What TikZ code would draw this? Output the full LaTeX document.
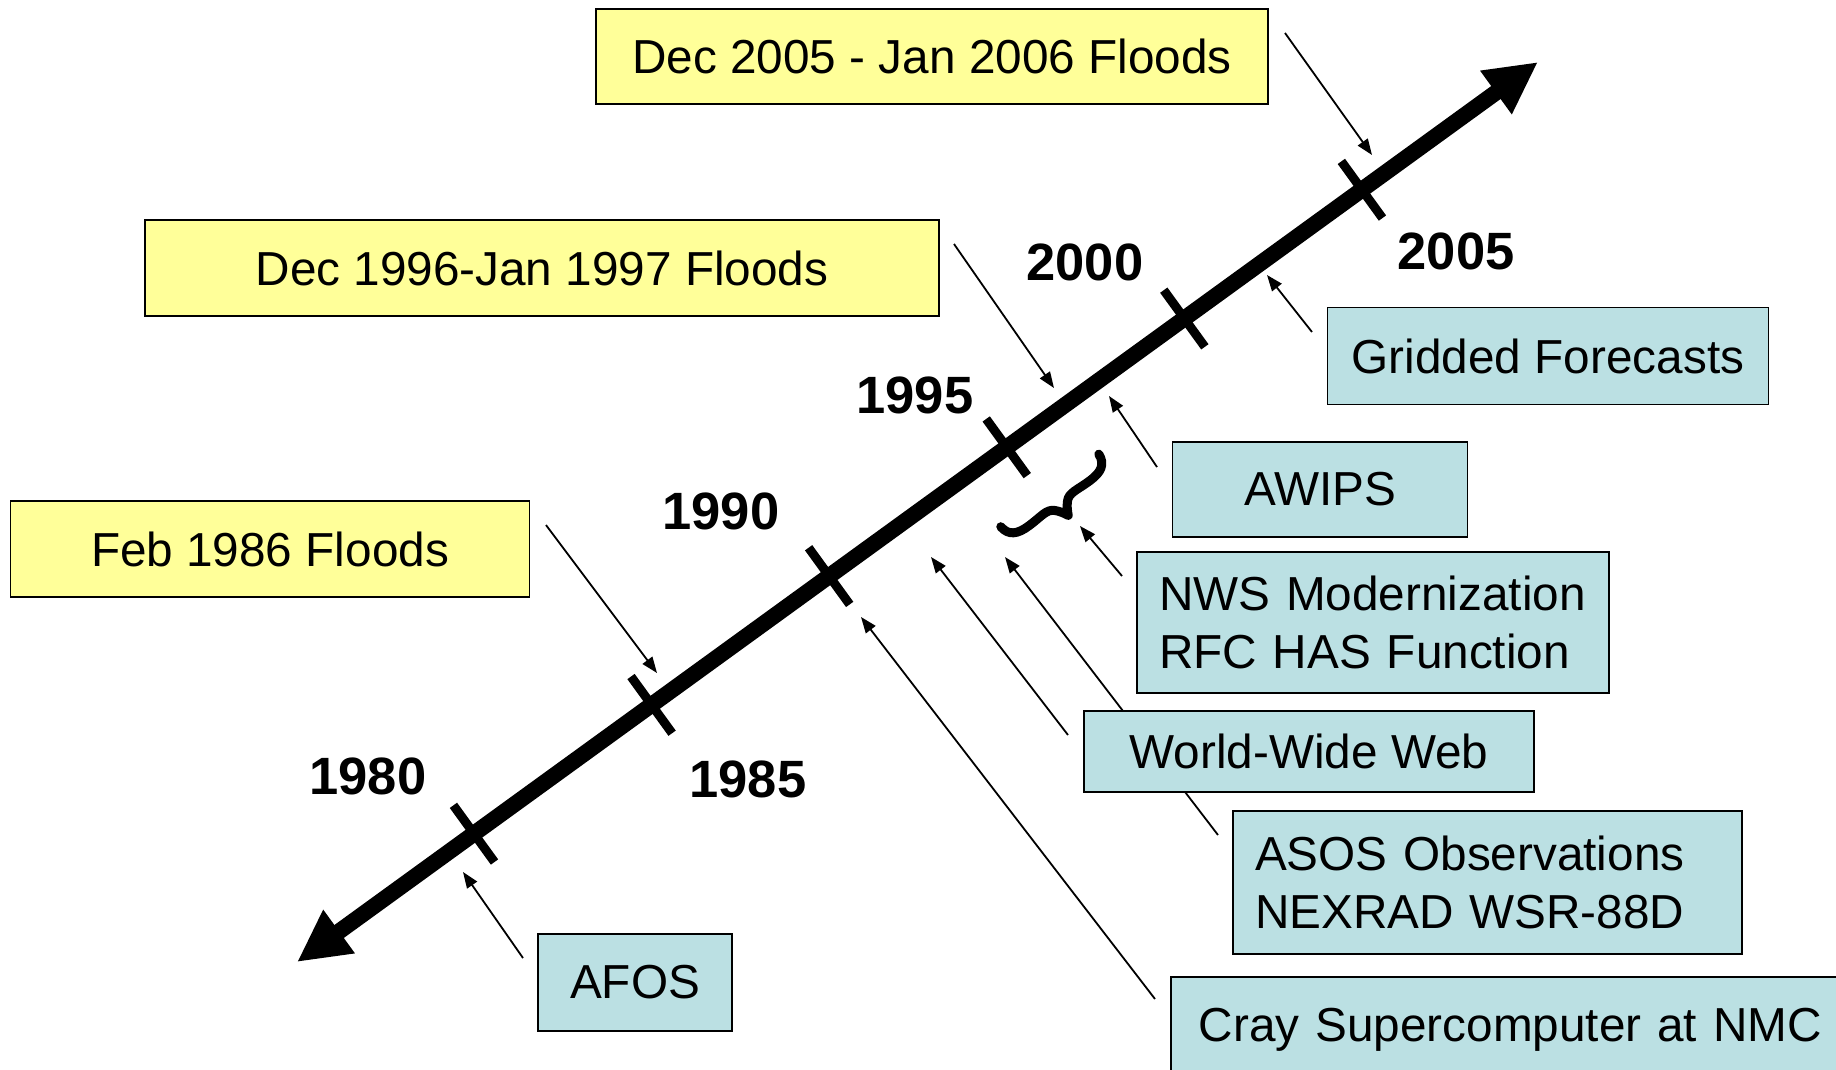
\documentclass[tikz,border=0pt]{standalone}
\usepackage{fontspec}
\setmainfont{Liberation Sans}
\usetikzlibrary{arrows.meta}
\definecolor{boxyellow}{HTML}{FFFF99}
\definecolor{boxblue}{HTML}{BBE0E3}
\begin{document}
\begin{tikzpicture}[x=1pt,y=-1pt,
  boxbase/.style={draw=black, line width=1.8pt, inner sep=0pt,
    font=\fontsize{47.7}{57.2}\selectfont},
  evt/.style={boxbase, fill=boxyellow},
  tech/.style={boxbase, fill=boxblue},
  techleft/.style={boxbase, fill=boxblue, align=left, inner xsep=22pt},
  yr/.style={inner sep=0pt, font=\fontsize{52.5}{60}\selectfont\bfseries},
  conn/.style={line width=1.8pt, -{Triangle[length=16pt,width=12pt]}},
  tickmark/.style={fill=black, inner sep=0pt, minimum width=9pt,
    minimum height=70pt, sloped},
  timeline/.style={line width=16pt,
    {Triangle[length=52pt,width=50pt]}-{Triangle[length=52pt,width=50pt]}},
  bracestyle/.style={line width=9pt, line cap=round, line join=round}
]
\useasboundingbox (0,0) rectangle (1836,1069);
\clip (0,0) rectangle (1836,1069);

% connector end points
\coordinate (c05s) at (1285,33);   \coordinate (c05e) at (1372,155);
\coordinate (c96s) at (954,244);   \coordinate (c96e) at (1054,388);
\coordinate (c86s) at (546,525);   \coordinate (c86e) at (657,673);
\coordinate (cgrs) at (1312,332);  \coordinate (cgre) at (1267,275);
\coordinate (caws) at (1157,467);  \coordinate (cawe) at (1109,396);
\coordinate (cnws) at (1122,576);  \coordinate (cnwe) at (1080,526);
\coordinate (cwws) at (1068,735);  \coordinate (cwwe) at (931,557);
\coordinate (cass) at (1218,835);  \coordinate (case) at (1005,557);
\coordinate (ccrs) at (1155,999);  \coordinate (ccre) at (861,617);
\coordinate (cafs) at (523,958);   \coordinate (cafe) at (463,872);

\draw[conn] (c05s) -- (c05e);
\draw[conn] (c96s) -- (c96e);
\draw[conn] (c86s) -- (c86e);
\draw[conn] (cgrs) -- (cgre);
\draw[conn] (caws) -- (cawe);
\draw[conn] (cnws) -- (cnwe);
\draw[conn] (cwws) -- (cwwe);
\draw[conn] (cass) -- (case);
\draw[conn] (ccrs) -- (ccre);
\draw[conn] (cafs) -- (cafe);

% timeline
\coordinate (lo) at (297,962);
\coordinate (hi) at (1538,62);
\draw[timeline] (lo) -- (hi)
  node[tickmark, pos=0.1426] (t1980) {}
  node[tickmark, pos=0.2857] (t1985) {}
  node[tickmark, pos=0.4288] (t1990) {}
  node[tickmark, pos=0.5719] (t1995) {}
  node[tickmark, pos=0.7150] (t2000) {}
  node[tickmark, pos=0.8581] (t2005) {};

% brace (drawn in its own frame: u along the timeline, v towards the tip)
\begin{scope}[shift={(1048,488)}, rotate=36.5]
  \draw[bracestyle] (-61,3) .. controls (-60,15) and (-52,19) .. (-38,19)
    .. controls (-22,19) and (-14,16) .. (-8,22)
    .. controls (-4,26) and (-2,30) .. (0,34)
    .. controls (2,30) and (4,26) .. (8,22)
    .. controls (14,16) and (22,19) .. (38,19)
    .. controls (52,19) and (60,15) .. (61,3);
\end{scope}

% year labels
\node[yr] (y1980) at (368,776) {1980};
\node[yr] (y1985) at (748,779) {1985};
\node[yr] (y1990) at (721,511) {1990};
\node[yr] (y1995) at (915,395) {1995};
\node[yr] (y2000) at (1085,262) {2000};
\node[yr] (y2005) at (1456,251) {2005};

% event boxes
\node[evt, minimum width=672pt, minimum height=95pt] (dec05) at (932,56.5) {Dec 2005 - Jan 2006 Floods};
\node[evt, minimum width=794pt, minimum height=96pt] (dec96) at (542,268) {Dec 1996-Jan 1997 Floods};
\node[evt, minimum width=519pt, minimum height=96pt] (feb86) at (270,549) {Feb 1986 Floods};

% technology boxes
\node[tech, minimum width=441pt, minimum height=97pt] (grid) at (1548,356) {Gridded Forecasts};
\node[tech, minimum width=295pt, minimum height=95pt] (awips) at (1320,489.5) {AWIPS};
\node[techleft, text width=428pt, minimum height=141pt] (nws) at (1373,622.5) {NWS Modernization\\RFC HAS Function};
\node[tech, minimum width=450pt, minimum height=81pt] (www) at (1309,751.5) {World-Wide Web};
\node[techleft, text width=465pt, minimum height=143pt] (asos) at (1487.5,882.5) {ASOS Observations\\NEXRAD WSR-88D};
\node[techleft, inner xsep=28pt, text width=644pt, minimum height=96pt, text depth=0pt, anchor=north west] (cray) at (1170,976) {Cray Supercomputer at NMC};
\node[tech, minimum width=194pt, minimum height=97pt] (afos) at (635,982.5) {AFOS};
\end{tikzpicture}
\end{document}
